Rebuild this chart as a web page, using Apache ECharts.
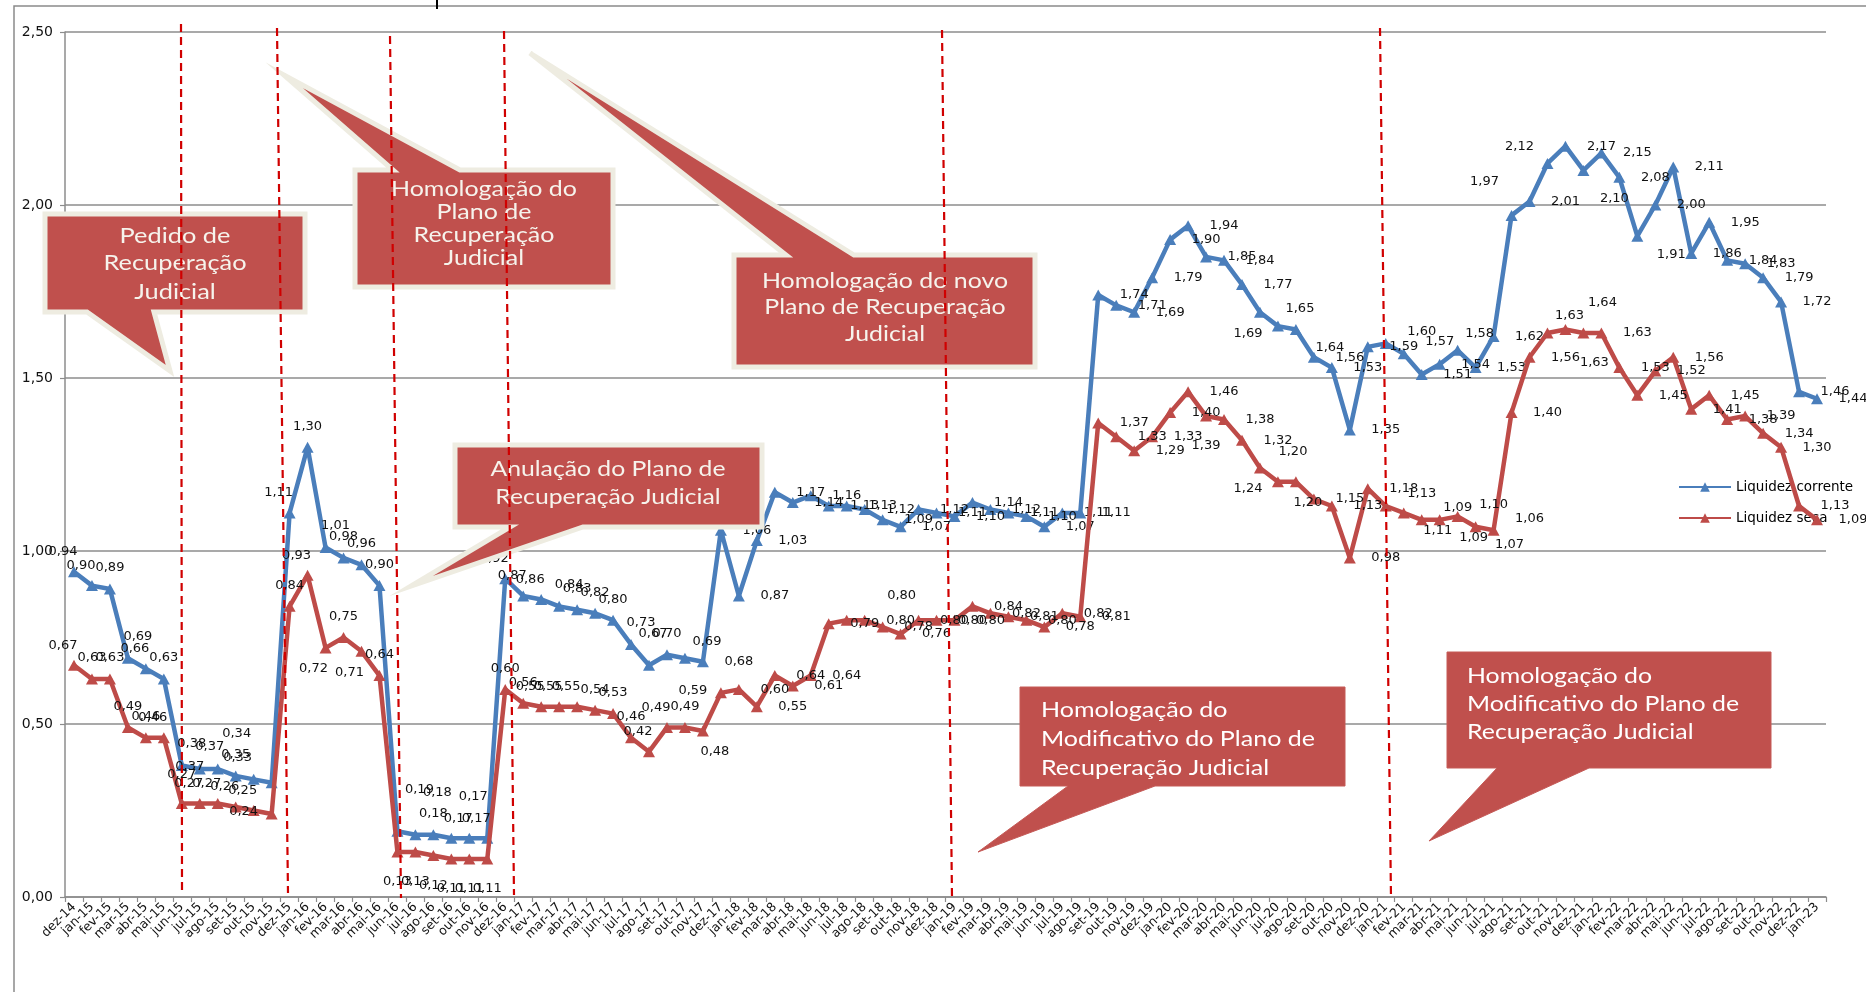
<!DOCTYPE html>
<html>
<head>
<meta charset="utf-8">
<script src="https://cdn.jsdelivr.net/npm/echarts@6.0.0/dist/echarts.min.js"></script>
<style>
html,body{margin:0;padding:0;background:#ffffff;}
#chart{width:1866px;height:992px;}
</style>
</head>
<body>
<div id="chart"></div>
<script>
// ---------------- DATA ----------------
const categories = [
  'dez-14',
  'jan-15','fev-15','mar-15','abr-15','mai-15','jun-15','jul-15','ago-15','set-15','out-15','nov-15','dez-15',
  'jan-16','fev-16','mar-16','abr-16','mai-16','jun-16','jul-16','ago-16','set-16','out-16','nov-16','dez-16',
  'jan-17','fev-17','mar-17','abr-17','mai-17','jun-17','jul-17','ago-17','set-17','out-17','nov-17','dez-17',
  'jan-18','fev-18','mar-18','abr-18','mai-18','jun-18','jul-18','ago-18','set-18','out-18','nov-18','dez-18',
  'jan-19','fev-19','mar-19','abr-19','mai-19','jun-19','jul-19','ago-19','set-19','out-19','nov-19','dez-19',
  'jan-20','fev-20','mar-20','abr-20','mai-20','jun-20','jul-20','ago-20','set-20','out-20','nov-20','dez-20',
  'jan-21','fev-21','mar-21','abr-21','mai-21','jun-21','jul-21','ago-21','set-21','out-21','nov-21','dez-21',
  'jan-22','fev-22','mar-22','abr-22','mai-22','jun-22','jul-22','ago-22','set-22','out-22','nov-22','dez-22',
  'jan-23'
];

const liquidezCorrente = [
  0.94,
  0.90,0.89,0.69,0.66,0.63,0.38,0.37,0.37,0.35,0.34,0.33,1.11,
  1.30,1.01,0.98,0.96,0.90,0.19,0.18,0.18,0.17,0.17,0.17,0.92,
  0.87,0.86,0.84,0.83,0.82,0.80,0.73,0.67,0.70,0.69,0.68,1.06,
  0.87,1.03,1.17,1.14,1.16,1.13,1.13,1.12,1.09,1.07,1.12,1.11,
  1.10,1.14,1.12,1.11,1.10,1.07,1.11,1.11,1.74,1.71,1.69,1.79,
  1.90,1.94,1.85,1.84,1.77,1.69,1.65,1.64,1.56,1.53,1.35,1.59,
  1.60,1.57,1.51,1.54,1.58,1.53,1.62,1.97,2.01,2.12,2.17,2.10,
  2.15,2.08,1.91,2.00,2.11,1.86,1.95,1.84,1.83,1.79,1.72,1.46,
  1.44
];

const liquidezSeca = [
  0.67,
  0.63,0.63,0.49,0.46,0.46,0.27,0.27,0.27,0.26,0.25,0.24,0.84,
  0.93,0.72,0.75,0.71,0.64,0.13,0.13,0.12,0.11,0.11,0.11,0.60,
  0.56,0.55,0.55,0.55,0.54,0.53,0.46,0.42,0.49,0.49,0.48,0.59,
  0.60,0.55,0.64,0.61,0.64,0.79,0.80,0.80,0.78,0.76,0.80,0.80,
  0.80,0.84,0.82,0.81,0.80,0.78,0.82,0.81,1.37,1.33,1.29,1.33,
  1.40,1.46,1.39,1.38,1.32,1.24,1.20,1.20,1.15,1.13,0.98,1.18,
  1.13,1.11,1.09,1.09,1.10,1.07,1.06,1.40,1.56,1.63,1.64,1.63,
  1.63,1.53,1.45,1.52,1.56,1.41,1.45,1.38,1.39,1.34,1.30,1.13,
  1.09
];

const seriesNames = ['Liquidez corrente', 'Liquidez seca'];
const yAxisMin = 0, yAxisMax = 2.5, yAxisStep = 0.5;

const calloutTexts = [
  ['Pedido de', 'Recuperação', 'Judicial'],
  ['Homologação do', 'Plano de', 'Recuperação', 'Judicial'],
  ['Homologação do novo', 'Plano de Recuperação', 'Judicial'],
  ['Anulação do Plano de', 'Recuperação Judicial'],
  ['Homologação do', 'Modificativo do Plano de', 'Recuperação Judicial'],
  ['Homologação do', 'Modificativo do Plano de', 'Recuperação Judicial']
];

// ---------------- LAYOUT / STYLE ----------------
const R = n => Array(n).fill('R');
const labelPosCorrente = [
  'TL','TL','T','TR','TL','T', 'TR','TR','L','T','TTL','LT', 'TL','T','TR','T','T','T',
  'TTR','TTR','T','TTR','TL','TL',
  'TL','TL','TL','TR','T','T','T','TR','TT','T','TRR','R',
  ...R(30),
  'BL','TRR','RB','R','R','R','R','RT','RT','R','R','TRR','R','R',
  'LTT','R','LT2','R','RB2','R','R','RB',
  ...R(10)
];
const labelPosSeca = [
  'TL','T','T','T','T','TL', 'T2','TL','TL','TL','TL','L', 'T','TL','BL','T','BL','T',
  'B','B','B','B','B','B',
  'T','T','TL','TL','TL','T','T','T','TL','TL','T','BR','L',
  ...R(6),
  'RTT',
  ...R(19),
  'B','R','R',
  'BL','TRH','BR','R','R','R','R','RT','RB','RT','RB','RT','RB','RT',
  'R','R',
  'TRR','RT2','BR2',
  ...R(13)
];
const OFF = {
  T:[0,-21], T2:[0,-29], TL:[-11,-20], TR:[10,-22], TT:[4,-32], TTR:[22,-42], TTL:[-17,-46],
  L:[-28,-2], LT:[-34,-25], LTT:[-27,-34], LT2:[-28,-17],
  R:[36,0], RT:[36,-12], RB:[34,18], RB2:[31,28], RTT:[55,-25], RT2:[37,-27],
  TRR:[22,-17], TRH:[15,-30], B:[0,30], BL:[-12,21], BR:[12,21], BR2:[11,30]
};
const labelCodes = [labelPosCorrente, labelPosSeca];

// callout geometry in page pixels: box [x0,y0,x1,y1], pointer base side & range, tip
const calloutShapes = [
  {box:[45,214,305,312], side:'bottom', base:[87,154], tip:[170,371], border:true,
   align:'center', tx:175, ty:[236,263,292], font:21, width:143},
  {box:[355,170,613,287], side:'top', base:[393,460], tip:[284,75], border:true,
   align:'center', tx:484, ty:[189,212,235,258], font:21, width:186},
  {box:[734,255,1035,367], side:'top', base:[786,854], tip:[530,53], border:true,
   align:'center', tx:885, ty:[281,307,334], font:21, width:246},
  {box:[455,445,762,527], side:'bottom', base:[510,583], tip:[411,586], border:true,
   align:'center', tx:608, ty:[469,497], font:21, width:235},
  {box:[1020,687,1345,786], side:'bottom', base:[1068,1155], tip:[978,852], border:false,
   align:'left', tx:1041, ty:[710,739,768], font:21, width:274},
  {box:[1447,652,1771,768], side:'bottom', base:[1497,1589], tip:[1429,841], border:false,
   align:'left', tx:1467, ty:[676,704,732], font:21, width:272}
];
const eventLines = [
  [181,24,182,890],[277,28,288,893],[390,36,401,898],
  [504,31,514,895],[942,30,952,898],[1380,28,1391,898]
];

const BLUE = '#4A7EBB', RED = '#BE4B48';
const fmt = v => v.toFixed(2).replace('.', ',');

const measureCtx = document.createElement('canvas').getContext('2d');
function textWidth(str, size) {
  measureCtx.font = size + 'px Lato';
  return measureCtx.measureText(str).width;
}

function calloutPolygon(c) {
  const [x0,y0,x1,y1] = c.box, [bl,br] = c.base;
  if (c.side === 'bottom') {
    return [[x0,y0],[x1,y0],[x1,y1],[br,y1],c.tip,[bl,y1],[x0,y1]];
  }
  return [[x0,y0],[bl,y0],c.tip,[br,y0],[x1,y0],[x1,y1],[x0,y1]];
}

const graphics = [];
graphics.push({type:'rect', shape:{x:14,y:6,width:1900,height:1100}, z:0,
  style:{fill:'none', stroke:'#8A8A8A', lineWidth:1.5}, silent:true});
graphics.push({type:'line', shape:{x1:437,y1:0,x2:437,y2:9}, z:0,
  style:{stroke:'#000', lineWidth:2}, silent:true});

calloutShapes.forEach((c, k) => {
  graphics.push({type:'polygon', z:20, silent:true,
    shape:{points: calloutPolygon(c)},
    style:{fill:'#C0504D', stroke: c.border ? '#EEECE1' : '#C55A57', lineWidth: c.border ? 5 : 1, lineJoin:'miter'}});
  const lines = calloutTexts[k];
  let maxW = 0;
  lines.forEach(s => { maxW = Math.max(maxW, textWidth(s, c.font)); });
  const sx = c.width / maxW;
  lines.forEach((s, j) => {
    graphics.push({type:'text', z:21, silent:true, x:c.tx, y:c.ty[j], scaleX:sx, scaleY:1,
      style:{text:s, fill: c.border ? '#F6F3EC' : '#FFFFFF', font: c.font + 'px Lato',
             align:c.align, verticalAlign:'middle'}});
  });
});

eventLines.forEach(l => {
  graphics.push({type:'line', z:30, silent:true,
    shape:{x1:l[0], y1:l[1], x2:l[2], y2:l[3]},
    style:{stroke:'#D00000', lineWidth:2.2, lineDash:[8,5]}});
});

const labelStyle = {
  show: true, position: 'inside', formatter: p => fmt(p.value),
  fontFamily: 'DejaVu Sans', fontSize: 13, color: '#111111',
  textBorderWidth: 0, align: 'center', verticalAlign: 'middle'
};
function labelLayout(params) {
  const code = labelCodes[params.seriesIndex][params.dataIndex];
  const o = OFF[code] || [0, -21];
  return {dx: o[0], dy: o[1], hideOverlap: false};
}

const chart = echarts.init(document.getElementById('chart'), null, {renderer:'canvas'});
chart.setOption({
  animation: false,
  backgroundColor: '#ffffff',
  grid: {left: 65, right: 40, top: 32, bottom: 95, containLabel: false},
  legend: {
    orient: 'vertical', left: 1678, top: 480, padding: 0,
    itemWidth: 52, itemHeight: 12, itemGap: 17,
    textStyle: {fontFamily: 'DejaVu Sans', fontSize: 13.5, color: '#000'},
    data: seriesNames
  },
  xAxis: {
    type: 'category', data: categories, boundaryGap: true,
    axisLine: {lineStyle: {color: '#8C8C8C', width: 1.5}},
    axisTick: {show: true, alignWithLabel: false, interval: 0, length: 5, lineStyle: {color: '#8C8C8C', width: 1.2}},
    axisLabel: {interval: 0, rotate: 45, margin: 8, fontFamily: 'DejaVu Sans', fontSize: 12.5, color: '#111'},
    splitLine: {show: false}
  },
  yAxis: {
    type: 'value', min: yAxisMin, max: yAxisMax, interval: yAxisStep,
    axisLine: {show: true, lineStyle: {color: '#8C8C8C', width: 1.5}},
    axisTick: {show: true, length: 5, lineStyle: {color: '#8C8C8C', width: 1.2}},
    axisLabel: {margin: 12, fontFamily: 'DejaVu Sans', fontSize: 14, color: '#111', formatter: v => fmt(v)},
    splitLine: {show: true, lineStyle: {color: '#8C8C8C', width: 1.5}}
  },
  series: [
    {
      name: seriesNames[0], type: 'line', data: liquidezCorrente,
      symbol: 'triangle', symbolSize: [12, 11], showAllSymbol: true, z: 3,
      lineStyle: {width: 4.5, color: BLUE}, itemStyle: {color: BLUE},
      label: labelStyle, labelLayout: labelLayout
    },
    {
      name: seriesNames[1], type: 'line', data: liquidezSeca,
      symbol: 'triangle', symbolSize: [12, 11], showAllSymbol: true, z: 4,
      lineStyle: {width: 4.5, color: RED}, itemStyle: {color: RED},
      label: labelStyle, labelLayout: labelLayout
    }
  ],
  graphic: {elements: graphics}
});
</script>
</body>
</html>
